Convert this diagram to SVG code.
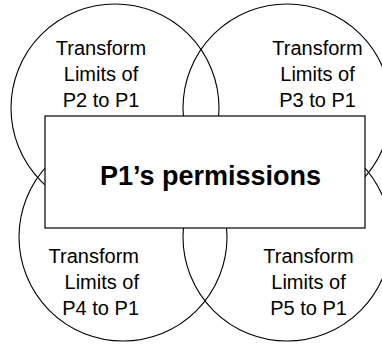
<svg xmlns="http://www.w3.org/2000/svg" width="382" height="344" viewBox="0 0 382 344">
<style>
.c{fill:none;stroke:#000;stroke-width:1.1}
.t{font-family:"Liberation Sans",Arial,sans-serif;font-size:20px;fill:#000}
.m{text-anchor:middle}
.b{font-family:"Liberation Sans",Arial,sans-serif;font-size:27px;font-weight:bold;fill:#000;text-anchor:middle}
</style>
<rect width="382" height="344" fill="#fff"/>
<g id="p2">
<circle class="c" cx="115" cy="108" r="104"/>
<text class="t m" x="101" y="55">Transform</text>
<text class="t m" x="101" y="81">Limits of</text>
<text class="t m" x="101" y="107">P2 to P1</text>
</g>
<g id="p3">
<circle class="c" cx="287" cy="108" r="104"/>
<text class="t m" x="317.5" y="55">Transform</text>
<text class="t m" x="317.5" y="81">Limits of</text>
<text class="t m" x="317.5" y="107">P3 to P1</text>
</g>
<g id="p4">
<circle class="c" cx="123" cy="237" r="104"/>
<text class="t" x="139" y="263" text-anchor="end">Transform</text>
<text class="t" x="139" y="289" text-anchor="end">Limits of</text>
<text class="t" x="139" y="315" text-anchor="end">P4 to P1</text>
</g>
<g id="p5">
<circle class="c" cx="287" cy="237" r="104"/>
<text class="t m" x="308.5" y="263">Transform</text>
<text class="t m" x="308.5" y="289">Limits of</text>
<text class="t m" x="308.5" y="315">P5 to P1</text>
</g>
<g id="p1">
<rect x="45" y="116" width="320" height="112" fill="#fff" stroke="#000" stroke-width="1.2"/>
<text class="b" x="210.5" y="185">P1’s permissions</text>
</g>
</svg>
